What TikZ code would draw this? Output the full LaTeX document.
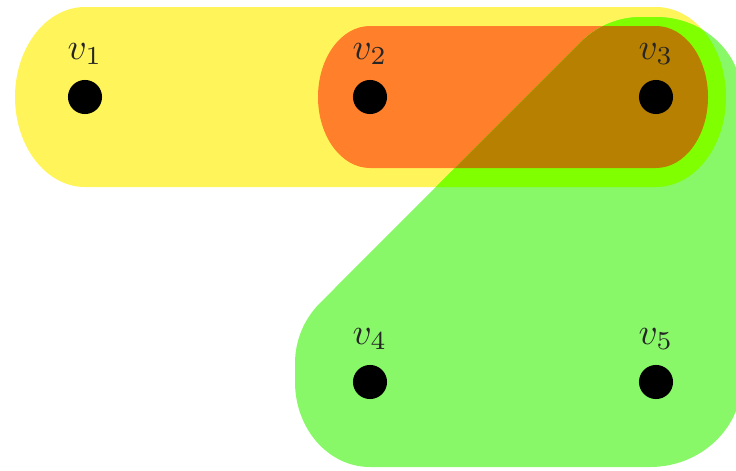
\documentclass[tikz,border=0pt]{standalone}
\definecolor{hyYellow}{HTML}{FFF55A}
\definecolor{hyOrange}{HTML}{FF7F2A}
\definecolor{hyGreen}{HTML}{88F868}
\definecolor{hyLime}{HTML}{80FF00}
\definecolor{hyBrown}{HTML}{B88000}
\begin{document}
\begin{tikzpicture}[x=0.27pt,y=0.27pt,
  vtx/.style={circle,fill=black,inner sep=0pt,minimum size=9.2pt},
  vlab/.style={inner sep=0pt,font=\normalsize,text=black!85}]
\useasboundingbox (0,0) rectangle (736,470);
\def\yellowpath{(85,463) -- (656,463) arc[start angle=90,end angle=-90,x radius=70,y radius=90] -- (85,283) arc[start angle=270,end angle=90,x radius=70,y radius=90] -- cycle}
\def\orangepath{(370,444) -- (656,444) arc[start angle=90,end angle=-90,x radius=52,y radius=71] -- (370,302) arc[start angle=270,end angle=90,x radius=52,y radius=71] -- cycle}
\def\greenpath{(370,3) -- (650,3) arc[start angle=-90,end angle=0,x radius=92,y radius=87] -- (742,373) arc[start angle=0,end angle=90,x radius=86,y radius=80] -- (641,453) arc[start angle=90,end angle=135,radius=85] -- (319.9,166.9) arc[start angle=135,end angle=180,radius=85] -- (295,88) arc[start angle=180,end angle=270,x radius=75,y radius=85] -- cycle}
\fill[hyYellow] \yellowpath;
\fill[hyOrange] \orangepath;
\fill[hyGreen] \greenpath;
\begin{scope}
  \clip \greenpath;
  \fill[hyLime] \yellowpath;
  \fill[hyBrown] \orangepath;
\end{scope}
\node[vtx] (v1) at (85,373) {};
\node[vtx] (v2) at (370,373) {};
\node[vtx] (v3) at (656,373) {};
\node[vtx] (v4) at (370,88) {};
\node[vtx] (v5) at (656,88) {};
\node[vlab] (l1) at ([yshift=11.6pt]v1.center) {$v_1$};
\node[vlab] (l2) at ([yshift=11.6pt]v2.center) {$v_2$};
\node[vlab] (l3) at ([yshift=11.6pt]v3.center) {$v_3$};
\node[vlab] (l4) at ([yshift=11.6pt]v4.center) {$v_4$};
\node[vlab] (l5) at ([yshift=11.6pt]v5.center) {$v_5$};
\end{tikzpicture}
\end{document}
